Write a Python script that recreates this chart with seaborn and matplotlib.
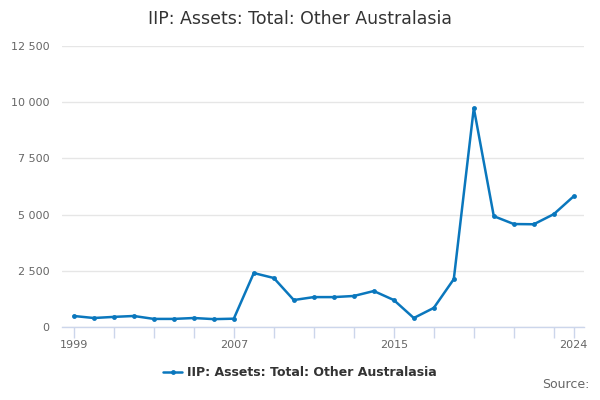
import numpy as np
import pandas as pd
import matplotlib
matplotlib.use('Agg')
import matplotlib.pyplot as plt
import seaborn as sns
from matplotlib.ticker import FuncFormatter

years = list(range(1999, 2025))
values = [490, 400, 450, 490, 360, 360, 400, 350, 370, 2400, 2180,
          1200, 1330, 1330, 1380, 1600, 1200, 400, 850, 2130, 9740,
          4930, 4580, 4570, 5020, 5820]
series_name = 'IIP: Assets: Total: Other Australasia'
tick_years = list(range(1999, 2024, 2)) + [2024]
label_years = [1999, 2007, 2015, 2024]

df = pd.DataFrame({'Year': years, 'Value': values})

sns.set_style('white')
plt.rcParams['font.family'] = ['DejaVu Sans']

fig = plt.figure(figsize=(6, 4), dpi=100)
ax = fig.add_axes([0.103, 0.1825, 0.870, 0.7025])

blue = '#0a77bd'
sns.lineplot(data=df, x='Year', y='Value', ax=ax, color=blue, linewidth=1.8,
             marker='o', markersize=3.5, markeredgewidth=0, legend=False)

ax.set_xlim(1998.4, 2024.5)
ax.set_ylim(0, 12500)
ax.set_yticks(np.arange(0, 12501, 2500))
ax.yaxis.set_major_formatter(FuncFormatter(lambda v, p: f'{int(v):,}'.replace(',', ' ')))
ax.grid(axis='y', color='#e6e6e6', linewidth=1)
ax.set_axisbelow(True)

ax.set_xticks(tick_years)
ax.set_xticklabels([str(y) if y in label_years else '' for y in tick_years])
ax.tick_params(axis='x', length=8, width=1, color='#ccd6eb', labelsize=8,
               labelcolor='#666666', pad=1, direction='out', bottom=True)
ax.tick_params(axis='y', length=0, labelsize=8, labelcolor='#666666', pad=9)

for s in ['top', 'right', 'left']:
    ax.spines[s].set_visible(False)
ax.spines['bottom'].set_color('#ccd6eb')
ax.spines['bottom'].set_linewidth(1)

ax.set_xlabel('')
ax.set_ylabel('')

fig.suptitle(series_name, x=0.5, y=0.975, fontsize=12.5, color='#333333')

handle = plt.Line2D([], [], color=blue, linewidth=1.8, marker='o',
                    markersize=3.5, markeredgewidth=0)
leg = fig.legend([handle], [series_name], loc='center', bbox_to_anchor=(0.5, 0.068),
                 frameon=False, prop={'size': 9, 'weight': 'bold'},
                 handlelength=1.5, handletextpad=0.4)
for t in leg.get_texts():
    t.set_color('#333333')

fig.text(0.982, 0.022, 'Source:', ha='right', va='bottom', fontsize=9, color='#666666')

fig.savefig('out.png', dpi=100)
